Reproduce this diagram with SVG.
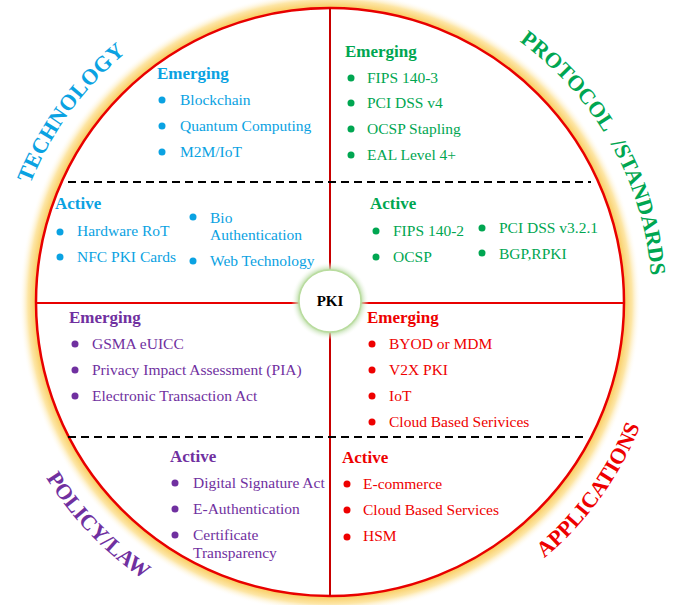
<svg xmlns="http://www.w3.org/2000/svg" width="689" height="605" viewBox="0 0 689 605">
<style>
.t{font-family:"Liberation Serif",serif;font-size:15.5px}
.h{font-family:"Liberation Serif",serif;font-size:17px;font-weight:bold}
.lbl{font-family:"Liberation Serif",serif;font-size:22px;font-weight:bold}
.blue{fill:#0aa2e2}.green{fill:#00a651}.purple{fill:#7030a0}.red{fill:#ee0000}
.dash{stroke:#000;stroke-width:2;stroke-dasharray:8 5;fill:none}
</style>
<defs>
<radialGradient id="glow" gradientUnits="userSpaceOnUse" cx="330" cy="302" r="314">
<stop offset="0.92" stop-color="#f6c246"/>
<stop offset="0.938" stop-color="#f9cd62"/>
<stop offset="0.962" stop-color="#fde6a6"/>
<stop offset="0.99" stop-color="#ffffff" stop-opacity="0"/>
</radialGradient>
<radialGradient id="pglow" gradientUnits="userSpaceOnUse" cx="330" cy="301" r="39">
<stop offset="0.78" stop-color="#b2d89a"/>
<stop offset="1" stop-color="#ffffff" stop-opacity="0"/>
</radialGradient>
<path id="cw" d="M 8,302 A 322 322 0 1 1 652,302 A 322 322 0 1 1 8,302" fill="none"/>
<path id="ccw" d="M -4,302 A 334 334 0 0 0 664,302" fill="none"/>
</defs>
<rect width="689" height="605" fill="#fff"/>
<g id="wheel">
<circle cx="330" cy="302" r="314" fill="url(#glow)"/>
<circle cx="330" cy="302" r="294" fill="#fff" stroke="#e80000" stroke-width="2.5"/>
</g>
<g id="connectors">
<line x1="330" y1="8" x2="330" y2="596" stroke="#c80000" stroke-width="2"/>
<line x1="36" y1="303" x2="624" y2="303" stroke="#e80000" stroke-width="2"/>
<line class="dash" x1="68" y1="182" x2="591" y2="182"/>
<line class="dash" x1="68" y1="437" x2="588" y2="437"/>
</g>
<g id="labels">
<text class="lbl blue" letter-spacing="0.4"><textPath href="#cw" startOffset="121">TECHNOLOGY</textPath></text>
<text class="lbl green" font-size="21"><textPath href="#cw" startOffset="708">PROTOCOL</textPath></text>
<text class="lbl green" font-size="21"><textPath href="#cw" startOffset="846">/STANDARDS</textPath></text>
<text class="lbl purple" font-size="20"><textPath href="#ccw" startOffset="185">POLICY/LAW</textPath></text>
<text class="lbl red"><textPath href="#ccw" startOffset="757">APPLICATIONS</textPath></text>
</g>
<g id="tech-emerging">
<text class="h blue" x="157" y="79">Emerging</text>
<g class="blue"><circle cx="162" cy="100" r="3.5"/><circle cx="162" cy="126" r="3.5"/><circle cx="162" cy="152" r="3.5"/></g>
<text class="t blue" x="180" y="105">Blockchain</text>
<text class="t blue" x="180" y="131">Quantum Computing</text>
<text class="t blue" x="180" y="157">M2M/IoT</text>
</g>
<g id="tech-active">
<text class="h blue" x="55" y="209">Active</text>
<g class="blue"><circle cx="60" cy="232" r="3.5"/><circle cx="60" cy="257" r="3.5"/><circle cx="193" cy="217" r="3.5"/><circle cx="193" cy="261" r="3.5"/></g>
<text class="t blue" x="77" y="236">Hardware RoT</text>
<text class="t blue" x="77" y="262">NFC PKI Cards</text>
<text class="t blue" x="210" y="223">Bio</text>
<text class="t blue" x="210" y="240">Authentication</text>
<text class="t blue" x="210" y="266">Web Technology</text>
</g>
<g id="protocol-emerging">
<text class="h green" x="345" y="57">Emerging</text>
<g class="green"><circle cx="351" cy="78" r="3.5"/><circle cx="351" cy="103" r="3.5"/><circle cx="351" cy="129" r="3.5"/><circle cx="351" cy="155" r="3.5"/></g>
<text class="t green" x="367" y="83">FIPS 140-3</text>
<text class="t green" x="367" y="108">PCI DSS v4</text>
<text class="t green" x="367" y="134">OCSP Stapling</text>
<text class="t green" x="367" y="160">EAL Level 4+</text>
</g>
<g id="protocol-active">
<text class="h green" x="370" y="209">Active</text>
<g class="green"><circle cx="376" cy="231" r="3.5"/><circle cx="376" cy="257" r="3.5"/><circle cx="482" cy="228" r="3.5"/><circle cx="482" cy="253" r="3.5"/></g>
<text class="t green" x="393" y="236">FIPS 140-2</text>
<text class="t green" x="393" y="262">OCSP</text>
<text class="t green" x="499" y="233">PCI DSS v3.2.1</text>
<text class="t green" x="499" y="259">BGP,RPKI</text>
</g>
<g id="policy-emerging">
<text class="h purple" x="69" y="323">Emerging</text>
<g class="purple"><circle cx="75" cy="344" r="3.5"/><circle cx="75" cy="370" r="3.5"/><circle cx="75" cy="396" r="3.5"/></g>
<text class="t purple" x="92" y="349">GSMA eUICC</text>
<text class="t purple" x="92" y="375">Privacy Impact Assessment (PIA)</text>
<text class="t purple" x="92" y="401">Electronic Transaction Act</text>
</g>
<g id="policy-active">
<text class="h purple" x="170" y="462">Active</text>
<g class="purple"><circle cx="175" cy="483" r="3.5"/><circle cx="175" cy="509" r="3.5"/><circle cx="175" cy="535" r="3.5"/></g>
<text class="t purple" x="193" y="488">Digital Signature Act</text>
<text class="t purple" x="193" y="514">E-Authentication</text>
<text class="t purple" x="193" y="540">Certificate</text>
<text class="t purple" x="193" y="558">Transparency</text>
</g>
<g id="app-emerging">
<text class="h red" x="367" y="323">Emerging</text>
<g class="red"><circle cx="372" cy="344" r="3.5"/><circle cx="372" cy="370" r="3.5"/><circle cx="372" cy="396" r="3.5"/><circle cx="372" cy="422" r="3.5"/></g>
<text class="t red" x="389" y="349">BYOD or MDM</text>
<text class="t red" x="389" y="375">V2X PKI</text>
<text class="t red" x="389" y="401">IoT</text>
<text class="t red" x="389" y="427">Cloud Based Serivices</text>
</g>
<g id="app-active">
<text class="h red" x="342" y="463">Active</text>
<g class="red"><circle cx="347" cy="484" r="3.5"/><circle cx="347" cy="510" r="3.5"/><circle cx="347" cy="537" r="3.5"/></g>
<text class="t red" x="363" y="489">E-commerce</text>
<text class="t red" x="363" y="515">Cloud Based Services</text>
<text class="t red" x="363" y="541">HSM</text>
</g>
<g id="pki">
<circle cx="330" cy="301" r="39" fill="url(#pglow)"/>
<circle cx="330" cy="301" r="31" fill="#fff" stroke="#b9dc9f" stroke-width="1.5"/>
<text x="330" y="306" text-anchor="middle" font-family="Liberation Serif,serif" font-size="15" font-weight="bold" fill="#000">PKI</text>
</g>
</svg>
